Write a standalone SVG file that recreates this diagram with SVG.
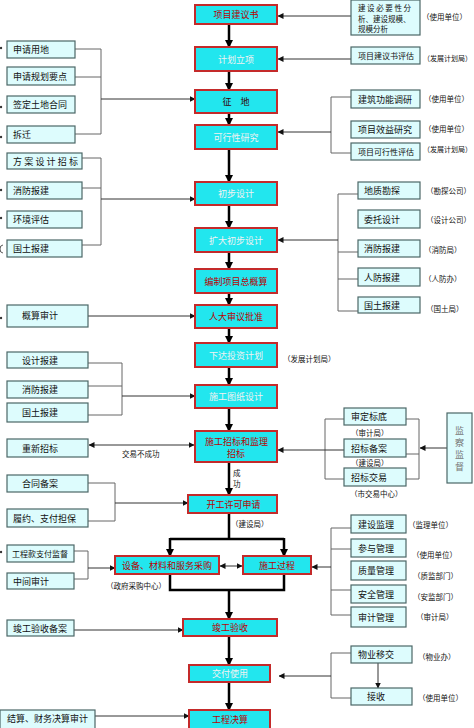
<svg xmlns="http://www.w3.org/2000/svg" width="474" height="728" viewBox="0 0 474 728">
<defs>
<marker id="ah" markerUnits="userSpaceOnUse" markerWidth="8" markerHeight="8" refX="7" refY="4" orient="auto"><path d="M0,0 L8,4 L0,8 z" fill="#000"/></marker>
<marker id="as" markerUnits="userSpaceOnUse" markerWidth="6" markerHeight="6" refX="5.5" refY="3" orient="auto-start-reverse"><path d="M0,0 L6,3 L0,6 z" fill="#111"/></marker>
</defs>
<style>
text{font-family:"Noto Sans CJK SC","Noto Sans",sans-serif;}
.m{fill:#22E6EE;stroke:#C42A2A;stroke-width:2;}
.s{fill:#DDFCFD;stroke:#4B6767;stroke-width:1.2;}
.mt{font-size:9px;text-anchor:middle;dominant-baseline:central;fill:#B80000;}
.mw{font-size:9px;text-anchor:middle;dominant-baseline:central;fill:#F2F2F2;}
.st{font-size:9px;dominant-baseline:central;fill:#111;}
.lb{font-size:7.5px;dominant-baseline:central;fill:#111;}
.vt{font-size:9px;fill:#777;text-anchor:middle;dominant-baseline:central;}
.th{stroke:#000;stroke-width:2.5;fill:none;}
.c{stroke:#666;stroke-width:1;fill:none;}
.a{stroke:#333;stroke-width:1;fill:none;marker-end:url(#as);}
.ma{stroke:#000;stroke-width:2.5;fill:none;marker-end:url(#ah);}
</style>
<rect width="474" height="728" fill="#fff"/>

<g id="connectors">
<!-- main flow -->
<path class="ma" d="M229,24 V47"/>
<path class="ma" d="M229,71 V90"/>
<path class="ma" d="M229,113 V125"/>
<path class="ma" d="M229,149 V182"/>
<path class="ma" d="M229,205 V228"/>
<path class="ma" d="M229,252 V269"/>
<path class="ma" d="M229,293 V305"/>
<path class="ma" d="M229,328 V343"/>
<path class="ma" d="M229,367 V385"/>
<path class="ma" d="M229,408 V431"/>
<path class="ma" d="M229,462 V495"/>
<path class="th" d="M229,513 V539 M170,539 H284"/>
<path class="ma" d="M170,538 V556"/>
<path class="ma" d="M284,538 V556"/>
<path class="th" d="M170,574 V590 H284 V574"/>
<path class="ma" d="M229,590 V619"/>
<path class="ma" d="M229,636 V665"/>
<path class="ma" d="M229,682 V710"/>
<path class="a" style="marker-start:url(#as)" d="M220,566 H242"/>
<!-- left groups -->
<path class="c" d="M75,49 H101 M75,77 H101 M75,134 H101 M101,49 V134"/>
<path class="a" d="M101,99 H195"/>
<path class="c" d="M82,158 H101 M82,188 H101 M82,245 H101 M101,158 V245"/>
<path class="a" d="M101,199 H195"/>
<path class="a" d="M88,316 H195"/>
<path class="c" d="M88,363 H122 M88,386 H122 M88,415 H122 M122,363 V415"/>
<path class="a" d="M122,396 H195"/>
<path class="a" style="marker-start:url(#as)" d="M89,445 H194"/>
<path class="c" d="M88,483 H115 M88,521 H115 M115,483 V521"/>
<path class="a" d="M115,503 H188"/>
<path class="c" d="M74,551 H88 M74,579 H88 M88,551 V579"/>
<path class="a" d="M88,568 H115"/>
<path class="a" d="M74,630 H183"/>
<path class="a" d="M95,716 H189"/>
<!-- right groups -->
<path class="a" d="M351,16 H278"/>
<path class="a" d="M351,59 H278"/>
<path class="c" d="M331,97 H351 M331,153 H351 M331,97 V153"/>
<path class="a" d="M331,132 H278"/>
<path class="c" d="M338,194 H358 M338,252 H358 M338,279 H358 M338,311 H358 M338,194 V311"/>
<path class="a" d="M338,240 H278"/>
<path class="c" d="M325,419 H344 M325,479 H344 M325,419 V479 M406,419 H419 M406,454 H419 M406,479 H419 M419,419 V479"/>
<path class="a" d="M344,450 H278"/>
<path class="a" d="M447,448 H420"/>
<path class="c" d="M331,528 H351 M331,549 H351 M331,590 H351 M331,615 H351 M331,528 V615"/>
<path class="a" d="M331,567 H312"/>
<path class="c" d="M331,653 H351 M331,698 H351 M331,653 V698"/>
<path class="a" d="M331,676 H279"/>
<path class="a" d="M378,663 V688"/>
</g>

<!-- main column -->
<g id="n1"><rect class="m" x="195" y="5" width="82" height="19"/><text class="mt" x="236" y="14.5">项目建议书</text></g>
<g id="n2"><rect class="m" x="195" y="47" width="82" height="24"/><text class="mw" x="236" y="59">计划立项</text></g>
<g id="n3"><rect class="m" x="195" y="90" width="82" height="23"/><text class="mt" x="236" y="101.5" style="fill:#300">征　地</text></g>
<g id="n4"><rect class="m" x="195" y="125" width="82" height="24"/><text class="mw" x="236" y="137">可行性研究</text></g>
<g id="n5"><rect class="m" x="195" y="182" width="82" height="23"/><text class="mw" x="236" y="193.5">初步设计</text></g>
<g id="n6"><rect class="m" x="195" y="228" width="82" height="24"/><text class="mw" x="236" y="240">扩大初步设计</text></g>
<g id="n7"><rect class="m" x="195" y="269" width="82" height="24"/><text class="mt" x="236" y="281">编制项目总概算</text></g>
<g id="n8"><rect class="m" x="195" y="305" width="82" height="23"/><text class="mt" x="236" y="316.5">人大审议批准</text></g>
<g id="n9"><rect class="m" x="195" y="343" width="82" height="24"/><text class="mw" x="236" y="355">下达投资计划</text></g>
<g id="n10"><rect class="m" x="195" y="385" width="82" height="23"/><text class="mw" x="236" y="396.5">施工图纸设计</text></g>
<g id="n11"><rect class="m" x="195" y="431" width="82" height="31"/><text class="mt" x="236.5" y="441">施工招标和监理</text><text class="mt" x="236" y="453">招标</text></g>
<g id="n12"><rect class="m" x="188" y="495" width="89" height="18"/><text class="mt" x="233.5" y="504">开工许可申请</text></g>
<g id="n13"><rect class="m" x="115" y="556" width="104" height="18"/><text class="mt" x="167" y="565">设备、材料和服务采购</text></g>
<g id="n14"><rect class="m" x="243" y="556" width="68" height="18"/><text class="mt" x="277" y="565">施工过程</text></g>
<g id="n15"><rect class="m" x="183" y="619" width="94" height="17"/><text class="mt" x="230" y="627.5">竣工验收</text></g>
<g id="n16"><rect class="m" x="189" y="665" width="81" height="17"/><text class="mw" x="230" y="673.5">交付使用</text></g>
<g id="n17"><rect class="m" x="189" y="710" width="81" height="19"/><text class="mt" x="230" y="719">工程决算</text></g>

<!-- left nodes -->
<g id="l1"><rect class="s" x="7" y="41" width="68" height="17"/><text class="st" x="13" y="49.5">申请用地</text></g>
<g id="l2"><rect class="s" x="7" y="67" width="68" height="18"/><text class="st" x="13" y="76">申请规划要点</text></g>
<g id="l3"><rect class="s" x="7" y="96" width="68" height="17"/><text class="st" x="13" y="104.5">签定土地合同</text></g>
<g id="l4"><rect class="s" x="7" y="126" width="68" height="17"/><text class="st" x="13" y="134.5">拆迁</text></g>
<g id="l5"><rect class="s" x="7" y="153" width="75" height="16"/><text class="st" x="13" y="161" letter-spacing="2.2">方案设计招标</text></g>
<g id="l6"><rect class="s" x="7" y="182" width="75" height="17"/><text class="st" x="13" y="190.5">消防报建</text></g>
<g id="l7"><rect class="s" x="7" y="211" width="75" height="17"/><text class="st" x="13" y="219.5">环境评估</text></g>
<g id="l8"><rect class="s" x="7" y="240" width="75" height="17"/><text class="st" x="13" y="248.5">国土报建</text></g>
<g id="l9"><rect class="s" x="7" y="305" width="81" height="22"/><text class="st" x="22" y="315">概算审计</text></g>
<g id="l10"><rect class="s" x="7" y="352" width="81" height="16"/><text class="st" x="22" y="360">设计报建</text></g>
<g id="l11"><rect class="s" x="7" y="381" width="81" height="17"/><text class="st" x="22" y="389.5">消防报建</text></g>
<g id="l12"><rect class="s" x="7" y="403" width="81" height="19"/><text class="st" x="22" y="412.5">国土报建</text></g>
<g id="l13"><rect class="s" x="7" y="439" width="81" height="18"/><text class="st" x="22" y="448">重新招标</text></g>
<g id="l14"><rect class="s" x="7" y="475" width="81" height="17"/><text class="st" x="22" y="483.5">合同备案</text></g>
<g id="l15"><rect class="s" x="7" y="509" width="81" height="18"/><text class="st" x="13" y="518">履约、支付担保</text></g>
<g id="l16"><rect class="s" x="7" y="545" width="67" height="17"/><text class="st" x="12" y="553.5" style="font-size:8px">工程款支付监督</text></g>
<g id="l17"><rect class="s" x="7" y="573" width="67" height="16"/><text class="st" x="13" y="581">中间审计</text></g>
<g id="l18"><rect class="s" x="7" y="620" width="67" height="16"/><text class="st" x="13" y="628">竣工验收备案</text></g>
<g id="l19"><rect class="s" x="0" y="710" width="95" height="19"/><text class="st" x="7" y="718.5">结算、财务决算审计</text></g>

<!-- right nodes -->
<g id="r1"><rect class="s" x="351" y="0" width="69" height="35"/><text class="lb" x="358" y="7.5" letter-spacing="1.6">建设必要性分</text><text class="lb" x="358" y="18">析、建设规模、</text><text class="lb" x="358" y="28.5">规模分析</text></g>
<g id="r2"><rect class="s" x="351" y="47" width="69" height="17"/><text class="st" x="358" y="55.5" style="font-size:8px">项目建议书评估</text></g>
<g id="r3"><rect class="s" x="351" y="90" width="69" height="18"/><text class="st" x="358" y="99">建筑功能调研</text></g>
<g id="r4"><rect class="s" x="351" y="121" width="69" height="17"/><text class="st" x="358" y="129.5">项目效益研究</text></g>
<g id="r5"><rect class="s" x="351" y="143" width="69" height="17"/><text class="st" x="358" y="151.5" style="font-size:8px">项目可行性评估</text></g>
<g id="r6"><rect class="s" x="358" y="182" width="62" height="17"/><text class="st" x="364" y="190.5">地质勘探</text></g>
<g id="r7"><rect class="s" x="358" y="210" width="62" height="18"/><text class="st" x="364" y="219">委托设计</text></g>
<g id="r8"><rect class="s" x="358" y="240" width="62" height="17"/><text class="st" x="364" y="248.5">消防报建</text></g>
<g id="r9"><rect class="s" x="358" y="268" width="62" height="18"/><text class="st" x="364" y="277">人防报建</text></g>
<g id="r10"><rect class="s" x="358" y="297" width="62" height="16"/><text class="st" x="364" y="305">国土报建</text></g>
<g id="r11"><rect class="s" x="344" y="408" width="62" height="17"/><text class="st" x="351" y="416.5">审定标底</text></g>
<g id="r12"><rect class="s" x="344" y="439" width="62" height="18"/><text class="st" x="351" y="448">招标备案</text></g>
<g id="r13"><rect class="s" x="344" y="468" width="62" height="18"/><text class="st" x="351" y="477">招标交易</text></g>
<g id="r14"><rect class="s" x="447" y="413" width="25" height="70"/><text class="vt" x="459.5" y="430">监</text><text class="vt" x="459.5" y="442">察</text><text class="vt" x="459.5" y="454">监</text><text class="vt" x="459.5" y="466">督</text></g>
<g id="r15"><rect class="s" x="351" y="515" width="55" height="18"/><text class="st" x="358" y="524">建设监理</text></g>
<g id="r16"><rect class="s" x="351" y="539" width="55" height="18"/><text class="st" x="358" y="548">参与管理</text></g>
<g id="r17"><rect class="s" x="351" y="561" width="55" height="19"/><text class="st" x="358" y="570.5">质量管理</text></g>
<g id="r18"><rect class="s" x="351" y="585" width="55" height="18"/><text class="st" x="358" y="594">安全管理</text></g>
<g id="r19"><rect class="s" x="351" y="607" width="55" height="20"/><text class="st" x="358" y="617">审计管理</text></g>
<g id="r20"><rect class="s" x="351" y="646" width="61" height="17"/><text class="st" x="358" y="654.5">物业移交</text></g>
<g id="r21"><rect class="s" x="351" y="688" width="61" height="17"/><text class="st" x="376" y="696.5" style="text-anchor:middle">接收</text></g>

<!-- labels -->
<g id="labels">
<text class="lb" x="422" y="16">（使用单位）</text>
<text class="lb" x="423" y="58" style="font-size:7px">（发展计划局）</text>
<text class="lb" x="424" y="98">（使用单位）</text>
<text class="lb" x="424" y="128">（使用单位）</text>
<text class="lb" x="423" y="149" style="font-size:7px">（发展计划局）</text>
<text class="lb" x="426" y="190">（勘探公司）</text>
<text class="lb" x="426" y="219">（设计公司）</text>
<text class="lb" x="424" y="249">（消防局）</text>
<text class="lb" x="424" y="278">（人防办）</text>
<text class="lb" x="426" y="308">（国土局）</text>
<text class="lb" x="283" y="358">（发展计划局）</text>
<text class="lb" x="351" y="432">（审计局）</text>
<text class="lb" x="351" y="462">（建设局）</text>
<text class="lb" x="350" y="493">（市交易中心）</text>
<text class="lb" x="122" y="453">交易不成功</text>
<text class="lb" x="233" y="472">成</text>
<text class="lb" x="233" y="483">功</text>
<text class="lb" x="231" y="523">（建设局）</text>
<text class="lb" x="106" y="585">（政府采购中心）</text>
<text class="lb" x="408" y="524">（监理单位）</text>
<text class="lb" x="412" y="554">（使用单位）</text>
<text class="lb" x="413" y="575">（质监部门）</text>
<text class="lb" x="413" y="596">（安监部门）</text>
<text class="lb" x="416" y="616">（审计局）</text>
<text class="lb" x="418" y="656">（物业办）</text>
<text class="lb" x="418" y="697">（使用单位）</text>
</g>
<g id="edge-marks" fill="#333">
<circle cx="1" cy="48" r="1.2"/><circle cx="1" cy="107" r="1.2"/><circle cx="1" cy="137" r="1.2"/><circle cx="1" cy="190" r="1.2"/><circle cx="1" cy="218" r="1.2"/><circle cx="1" cy="318" r="1.2"/><circle cx="1" cy="552" r="1.2"/>
<path d="M3,245 A3,4 0 0 0 3,253" stroke="#333" fill="none" stroke-width="0.8"/>
</g>
</svg>
